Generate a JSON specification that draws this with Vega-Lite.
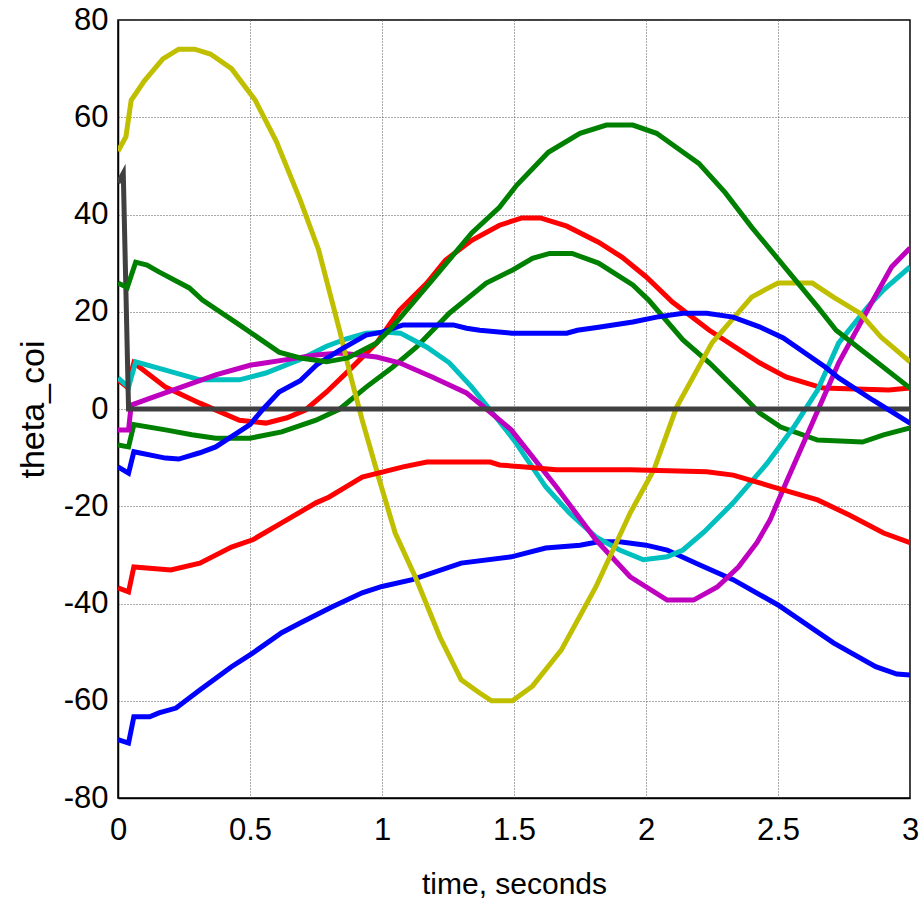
{
  "$schema": "https://vega.github.io/schema/vega-lite/v6.json",
  "width": 792,
  "height": 778,
  "autosize": {"type": "none"},
  "padding": {"left": 118, "top": 20, "right": 13, "bottom": 105},
  "background": "white",
  "config": {
    "view": {"stroke": "black", "strokeWidth": 1.5},
    "axis": {
      "domainColor": "black", "domainWidth": 1.5,
      "grid": true, "gridColor": "#555", "gridDash": [1, 2], "gridWidth": 1, "gridOpacity": 1,
      "ticks": false,
      "labelFont": "Liberation Sans", "labelFontSize": 31, "labelColor": "black",
      "labelExpr": "toString(datum.value)",
      "titleFont": "Liberation Sans", "titleFontWeight": "normal", "titleColor": "black"
    }
  },
  "data": {"values": [
    {"s":"b1","t":0,"v":-68},{"s":"b1","t":0.04,"v":-68.7},{"s":"b1","t":0.06,"v":-63.3},{"s":"b1","t":0.12,"v":-63.3},{"s":"b1","t":0.155,"v":-62.5},{"s":"b1","t":0.22,"v":-61.5},{"s":"b1","t":0.31,"v":-57.8},{"s":"b1","t":0.43,"v":-53},{"s":"b1","t":0.51,"v":-50.2},{"s":"b1","t":0.62,"v":-46},{"s":"b1","t":0.69,"v":-44},{"s":"b1","t":0.81,"v":-40.7},{"s":"b1","t":0.925,"v":-37.8},{"s":"b1","t":1.0,"v":-36.5},{"s":"b1","t":1.115,"v":-35.1},{"s":"b1","t":1.3,"v":-31.7},{"s":"b1","t":1.49,"v":-30.4},{"s":"b1","t":1.62,"v":-28.6},{"s":"b1","t":1.75,"v":-28},{"s":"b1","t":1.82,"v":-27.3},{"s":"b1","t":1.9,"v":-27.3},{"s":"b1","t":2.0,"v":-28},{"s":"b1","t":2.08,"v":-29},{"s":"b1","t":2.2,"v":-32},{"s":"b1","t":2.33,"v":-35.1},{"s":"b1","t":2.5,"v":-40.3},{"s":"b1","t":2.71,"v":-48.1},{"s":"b1","t":2.87,"v":-53},{"s":"b1","t":2.95,"v":-54.5},{"s":"b1","t":3.0,"v":-54.7},

    {"s":"g1","t":0,"v":-7.4},{"s":"g1","t":0.04,"v":-7.8},{"s":"g1","t":0.06,"v":-3.2},{"s":"g1","t":0.18,"v":-4.3},{"s":"g1","t":0.28,"v":-5.3},{"s":"g1","t":0.37,"v":-6},{"s":"g1","t":0.5,"v":-6},{"s":"g1","t":0.62,"v":-4.7},{"s":"g1","t":0.75,"v":-2.3},{"s":"g1","t":0.84,"v":0},{"s":"g1","t":0.94,"v":4.5},{"s":"g1","t":1.04,"v":8.6},{"s":"g1","t":1.13,"v":12.7},{"s":"g1","t":1.255,"v":19.7},{"s":"g1","t":1.395,"v":25.9},{"s":"g1","t":1.495,"v":28.6},{"s":"g1","t":1.57,"v":31},{"s":"g1","t":1.635,"v":32},{"s":"g1","t":1.72,"v":32},{"s":"g1","t":1.82,"v":30},{"s":"g1","t":1.95,"v":25.5},{"s":"g1","t":2.01,"v":22.4},{"s":"g1","t":2.14,"v":14.2},{"s":"g1","t":2.24,"v":9.5},{"s":"g1","t":2.37,"v":2.5},{"s":"g1","t":2.43,"v":-0.8},{"s":"g1","t":2.51,"v":-3.7},{"s":"g1","t":2.65,"v":-6.4},{"s":"g1","t":2.82,"v":-6.8},{"s":"g1","t":2.9,"v":-5.3},{"s":"g1","t":3.0,"v":-3.9},

    {"s":"r1","t":0,"v":6},{"s":"r1","t":0.035,"v":4.5},{"s":"r1","t":0.06,"v":9.5},{"s":"r1","t":0.18,"v":4.5},{"s":"r1","t":0.31,"v":1.2},{"s":"r1","t":0.46,"v":-2.3},{"s":"r1","t":0.56,"v":-2.9},{"s":"r1","t":0.64,"v":-1.8},{"s":"r1","t":0.71,"v":-0.2},{"s":"r1","t":0.79,"v":3.5},{"s":"r1","t":0.876,"v":8},{"s":"r1","t":0.98,"v":13.6},{"s":"r1","t":1.066,"v":20.3},{"s":"r1","t":1.17,"v":25.9},{"s":"r1","t":1.24,"v":30.6},{"s":"r1","t":1.34,"v":34.7},{"s":"r1","t":1.445,"v":37.8},{"s":"r1","t":1.53,"v":39.3},{"s":"r1","t":1.6,"v":39.3},{"s":"r1","t":1.7,"v":37.6},{"s":"r1","t":1.82,"v":34.3},{"s":"r1","t":1.91,"v":31.2},{"s":"r1","t":2.0,"v":27.2},{"s":"r1","t":2.1,"v":22},{"s":"r1","t":2.24,"v":16.2},{"s":"r1","t":2.43,"v":9.5},{"s":"r1","t":2.53,"v":6.6},{"s":"r1","t":2.67,"v":4.3},{"s":"r1","t":2.92,"v":3.9},{"s":"r1","t":3.0,"v":4.3},

    {"s":"c","t":0,"v":6.4},{"s":"c","t":0.04,"v":4.5},{"s":"c","t":0.067,"v":9.7},{"s":"c","t":0.18,"v":8},{"s":"c","t":0.31,"v":6},{"s":"c","t":0.46,"v":6},{"s":"c","t":0.56,"v":7.4},{"s":"c","t":0.69,"v":10.2},{"s":"c","t":0.79,"v":12.9},{"s":"c","t":0.865,"v":14.4},{"s":"c","t":0.94,"v":15.6},{"s":"c","t":1.02,"v":15.8},{"s":"c","t":1.07,"v":15.6},{"s":"c","t":1.17,"v":12.7},{"s":"c","t":1.255,"v":9.5},{"s":"c","t":1.34,"v":4.5},{"s":"c","t":1.41,"v":-0.2},{"s":"c","t":1.5,"v":-6.4},{"s":"c","t":1.62,"v":-16},{"s":"c","t":1.71,"v":-21.4},{"s":"c","t":1.81,"v":-26.3},{"s":"c","t":1.9,"v":-29},{"s":"c","t":1.99,"v":-31},{"s":"c","t":2.08,"v":-30.4},{"s":"c","t":2.14,"v":-29},{"s":"c","t":2.22,"v":-25.3},{"s":"c","t":2.33,"v":-19.3},{"s":"c","t":2.46,"v":-11.1},{"s":"c","t":2.56,"v":-3.7},{"s":"c","t":2.65,"v":3.9},{"s":"c","t":2.73,"v":13.6},{"s":"c","t":2.84,"v":21},{"s":"c","t":2.9,"v":24.5},{"s":"c","t":3.0,"v":29.2},

    {"s":"m","t":0,"v":-4.3},{"s":"m","t":0.04,"v":-4.3},{"s":"m","t":0.05,"v":0.8},{"s":"m","t":0.12,"v":2.2},{"s":"m","t":0.24,"v":4.5},{"s":"m","t":0.37,"v":7},{"s":"m","t":0.5,"v":9},{"s":"m","t":0.62,"v":10},{"s":"m","t":0.75,"v":11.1},{"s":"m","t":0.84,"v":11.5},{"s":"m","t":0.98,"v":10.7},{"s":"m","t":1.066,"v":9.5},{"s":"m","t":1.19,"v":6.6},{"s":"m","t":1.32,"v":3.3},{"s":"m","t":1.4,"v":-0.2},{"s":"m","t":1.49,"v":-4.3},{"s":"m","t":1.52,"v":-6.4},{"s":"m","t":1.66,"v":-16},{"s":"m","t":1.81,"v":-26.9},{"s":"m","t":1.94,"v":-34.5},{"s":"m","t":2.08,"v":-39.3},{"s":"m","t":2.18,"v":-39.3},{"s":"m","t":2.27,"v":-36.6},{"s":"m","t":2.35,"v":-32.5},{"s":"m","t":2.42,"v":-27.5},{"s":"m","t":2.47,"v":-22.8},{"s":"m","t":2.53,"v":-15.2},{"s":"m","t":2.63,"v":-2.9},{"s":"m","t":2.73,"v":9.5},{"s":"m","t":2.86,"v":22.4},{"s":"m","t":2.93,"v":29.2},{"s":"m","t":3.0,"v":33.1},

    {"s":"y","t":0,"v":53},{"s":"y","t":0.03,"v":56},{"s":"y","t":0.05,"v":63.5},{"s":"y","t":0.1,"v":67.5},{"s":"y","t":0.17,"v":72},{"s":"y","t":0.23,"v":74},{"s":"y","t":0.29,"v":74},{"s":"y","t":0.35,"v":73},{"s":"y","t":0.43,"v":70},{"s":"y","t":0.52,"v":63.5},{"s":"y","t":0.6,"v":55},{"s":"y","t":0.69,"v":43},{"s":"y","t":0.76,"v":32.7},{"s":"y","t":0.84,"v":16},{"s":"y","t":0.88,"v":7},{"s":"y","t":0.925,"v":-2.3},{"s":"y","t":0.99,"v":-14.6},{"s":"y","t":1.05,"v":-25.5},{"s":"y","t":1.13,"v":-35},{"s":"y","t":1.22,"v":-47},{"s":"y","t":1.3,"v":-55.7},{"s":"y","t":1.37,"v":-58.4},{"s":"y","t":1.415,"v":-60},{"s":"y","t":1.494,"v":-60},{"s":"y","t":1.57,"v":-57},{"s":"y","t":1.68,"v":-49.5},{"s":"y","t":1.81,"v":-36.6},{"s":"y","t":1.94,"v":-21.4},{"s":"y","t":2.03,"v":-12.5},{"s":"y","t":2.116,"v":0.4},{"s":"y","t":2.25,"v":13.6},{"s":"y","t":2.4,"v":23},{"s":"y","t":2.45,"v":24.5},{"s":"y","t":2.5,"v":25.9},{"s":"y","t":2.63,"v":25.9},{"s":"y","t":2.71,"v":23},{"s":"y","t":2.81,"v":19.7},{"s":"y","t":2.89,"v":14.8},{"s":"y","t":3.0,"v":9.7},

    {"s":"k","t":0,"v":46.5},{"s":"k","t":0.02,"v":48.5},{"s":"k","t":0.04,"v":0},{"s":"k","t":3.0,"v":0},

    {"s":"b2","t":0,"v":-11.9},{"s":"b2","t":0.04,"v":-13.2},{"s":"b2","t":0.06,"v":-8.8},{"s":"b2","t":0.18,"v":-10.1},{"s":"b2","t":0.23,"v":-10.3},{"s":"b2","t":0.31,"v":-9},{"s":"b2","t":0.37,"v":-7.8},{"s":"b2","t":0.5,"v":-3.2},{"s":"b2","t":0.55,"v":0},{"s":"b2","t":0.61,"v":3.5},{"s":"b2","t":0.69,"v":5.8},{"s":"b2","t":0.755,"v":9.2},{"s":"b2","t":0.84,"v":12.1},{"s":"b2","t":0.94,"v":15.2},{"s":"b2","t":1.0,"v":15.8},{"s":"b2","t":1.08,"v":17.3},{"s":"b2","t":1.27,"v":17.3},{"s":"b2","t":1.32,"v":16.6},{"s":"b2","t":1.37,"v":16.2},{"s":"b2","t":1.49,"v":15.6},{"s":"b2","t":1.7,"v":15.6},{"s":"b2","t":1.74,"v":16.2},{"s":"b2","t":1.82,"v":16.8},{"s":"b2","t":1.95,"v":17.9},{"s":"b2","t":2.04,"v":18.9},{"s":"b2","t":2.14,"v":19.7},{"s":"b2","t":2.23,"v":19.7},{"s":"b2","t":2.33,"v":18.9},{"s":"b2","t":2.43,"v":16.9},{"s":"b2","t":2.52,"v":14.6},{"s":"b2","t":2.68,"v":8.6},{"s":"b2","t":2.73,"v":6.4},{"s":"b2","t":2.86,"v":1.8},{"s":"b2","t":3.0,"v":-2.9},

    {"s":"g2","t":0,"v":25.9},{"s":"g2","t":0.035,"v":25},{"s":"g2","t":0.067,"v":30.2},{"s":"g2","t":0.11,"v":29.6},{"s":"g2","t":0.155,"v":28.2},{"s":"g2","t":0.27,"v":24.9},{"s":"g2","t":0.32,"v":22.4},{"s":"g2","t":0.46,"v":17.3},{"s":"g2","t":0.61,"v":11.7},{"s":"g2","t":0.69,"v":10.5},{"s":"g2","t":0.79,"v":9.7},{"s":"g2","t":0.87,"v":10.5},{"s":"g2","t":0.98,"v":13.6},{"s":"g2","t":1.04,"v":16.9},{"s":"g2","t":1.19,"v":26.5},{"s":"g2","t":1.34,"v":36.2},{"s":"g2","t":1.445,"v":41.5},{"s":"g2","t":1.51,"v":46},{"s":"g2","t":1.63,"v":52.8},{"s":"g2","t":1.75,"v":56.7},{"s":"g2","t":1.85,"v":58.4},{"s":"g2","t":1.95,"v":58.4},{"s":"g2","t":2.04,"v":56.7},{"s":"g2","t":2.13,"v":53.2},{"s":"g2","t":2.2,"v":50.5},{"s":"g2","t":2.3,"v":44.5},{"s":"g2","t":2.4,"v":37.4},{"s":"g2","t":2.545,"v":27.9},{"s":"g2","t":2.65,"v":21},{"s":"g2","t":2.72,"v":16.2},{"s":"g2","t":2.85,"v":10.7},{"s":"g2","t":3.0,"v":4.3},

    {"s":"r2","t":0,"v":-36.8},{"s":"r2","t":0.04,"v":-37.6},{"s":"r2","t":0.06,"v":-32.5},{"s":"r2","t":0.2,"v":-33.1},{"s":"r2","t":0.31,"v":-31.7},{"s":"r2","t":0.43,"v":-28.4},{"s":"r2","t":0.51,"v":-26.9},{"s":"r2","t":0.62,"v":-23.4},{"s":"r2","t":0.75,"v":-19.3},{"s":"r2","t":0.8,"v":-18.1},{"s":"r2","t":0.876,"v":-15.6},{"s":"r2","t":0.925,"v":-14},{"s":"r2","t":1.08,"v":-11.9},{"s":"r2","t":1.17,"v":-10.9},{"s":"r2","t":1.41,"v":-10.9},{"s":"r2","t":1.445,"v":-11.5},{"s":"r2","t":1.53,"v":-11.9},{"s":"r2","t":1.66,"v":-12.5},{"s":"r2","t":1.94,"v":-12.5},{"s":"r2","t":2.23,"v":-12.9},{"s":"r2","t":2.33,"v":-13.6},{"s":"r2","t":2.48,"v":-16},{"s":"r2","t":2.65,"v":-18.7},{"s":"r2","t":2.77,"v":-21.8},{"s":"r2","t":2.9,"v":-25.5},{"s":"r2","t":3.0,"v":-27.5}
  ]},
  "mark": {"type": "line", "strokeWidth": 5, "clip": true},
  "encoding": {
    "x": {
      "field": "t", "type": "quantitative",
      "scale": {"domain": [0, 3], "nice": false, "zero": false},
      "axis": {
        "values": [0, 0.5, 1, 1.5, 2, 2.5, 3],
        "labelPadding": 17, "labelFlush": false,
        "title": "time, seconds", "titleFontSize": 30,
        "titleX": 396, "titleY": 95, "titleBaseline": "alphabetic", "titleAnchor": "middle"
      }
    },
    "y": {
      "field": "v", "type": "quantitative",
      "scale": {"domain": [-80, 80], "nice": false},
      "axis": {
        "values": [-80, -60, -40, -20, 0, 20, 40, 60, 80],
        "labelPadding": 10, "labelFlush": false,
        "title": "theta_coi", "titleFontSize": 34,
        "titleX": -75, "titleY": 389, "titleAngle": 270, "titleBaseline": "alphabetic", "titleAlign": "center"
      }
    },
    "color": {
      "field": "s", "type": "nominal", "legend": null,
      "scale": {
        "domain": ["b1", "g1", "r1", "c", "m", "y", "k", "b2", "g2", "r2"],
        "range": ["#0000ff", "#008000", "#ff0000", "#00bfbf", "#bf00bf", "#bfbf00", "#404040", "#0000ff", "#008000", "#ff0000"]
      }
    }
  }
}
